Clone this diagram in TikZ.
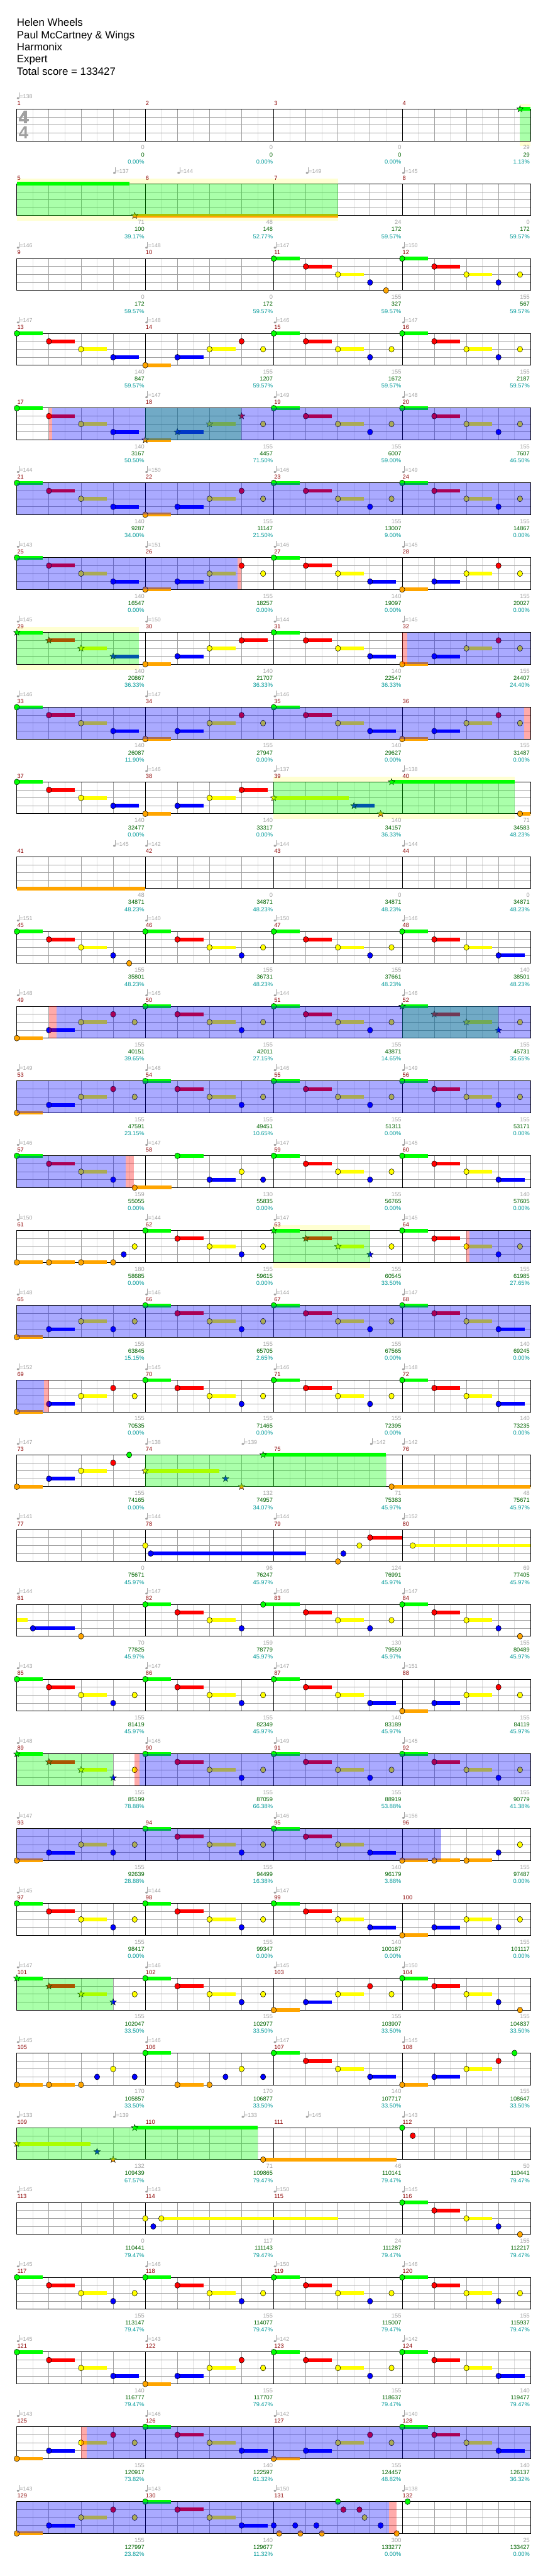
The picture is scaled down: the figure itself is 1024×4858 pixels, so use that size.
\documentclass[tikz,border=0pt]{standalone}
\usepackage{fontspec}
\setmainfont{Liberation Sans}
\usetikzlibrary{shapes.geometric}

\definecolor{lane0}{RGB}{0,255,0}
\definecolor{lane1}{RGB}{255,0,0}
\definecolor{lane2}{RGB}{255,255,0}
\definecolor{lane3}{RGB}{0,0,255}
\definecolor{lane4}{RGB}{255,165,0}
\definecolor{gridgray}{RGB}{160,160,160}
\definecolor{gridlight}{RGB}{221,221,221}
\definecolor{bandyellow}{RGB}{255,255,210}
\definecolor{barred}{RGB}{140,0,0}
\definecolor{scoregreen}{RGB}{0,100,0}
\definecolor{pctteal}{RGB}{0,153,153}

% x of a beat (0..16) in a row, top of the staff of row #1
\newcommand\bx[1]{31.7+60.6*(#1)}
\newcommand\rowtop[1]{\pgfmathsetmacro\rowy{205.7+141*((#1)-1)}}

% bars that come back all the time, #1 = first beat of the bar
\newcommand\runA[1]{0/#1/.81/o,1/#1+1/.81/o,2/#1+2/.81/o,3/#1+3/.81/o}
\newcommand\runB[1]{4/#1/.81/o,3/#1+1/.81/o,2/#1+2/.81/o,1/#1+3/0/o,2/#1+3.67/0/o}
\newcommand\runC[1]{0/#1/.81/o,1/#1+1/.81/o,2/#1+2/.81/o,3/#1+3/0/o,2/#1+3.67/0/o}

% staff of one row of four bars
\newcommand\staff[1]{%
  \rowtop{#1}
  \fill[white] ({\bx{0}},\rowy) rectangle ({\bx{16}},{\rowy+60});
  \foreach \e in {0.5,1.5,...,15.5}
    \draw[eighthline] ({\bx{\e}},\rowy) -- ({\bx{\e}},{\rowy+60});
  \foreach \q in {1,2,3,5,6,7,9,10,11,13,14,15}
    \draw[beatline] ({\bx{\q}},\rowy) -- ({\bx{\q}},{\rowy+60});
  \foreach \kk in {1,2,3}
    \draw[laneline] ({\bx{0}},{\rowy+15*\kk}) -- ({\bx{16}},{\rowy+15*\kk});
  \foreach \q in {4,8,12}
    \draw[barline] ({\bx{\q}},\rowy) -- ({\bx{\q}},{\rowy+60});
  \draw[frame] ({\bx{0}},\rowy) rectangle ({\bx{16}},{\rowy+60});
  \foreach \i [evaluate=\i as \mno using int(4*#1-3+\i)] in {0,...,3}
    \node[barno] (bar\mno) at ({\bx{4*\i}+.8},{\rowy-7.4}) {\mno};
}

% tempo marks: beat/bpm
\newcommand\tempos[2]{%
  \rowtop{#1}
  \foreach \pos/\bpm [count=\j] in {#2} {
    \fill[gridgray] ({\bx{\pos}+2.4},{\rowy-20.6}) ellipse [x radius=2.4,y radius=1.8];
    \draw[gridgray,line width=.8] ({\bx{\pos}+4.4},{\rowy-20.6}) -- ({\bx{\pos}+4.4},{\rowy-31.5});
    \node[tempo] (tp#1-\j) at ({\bx{\pos}+5.5},{\rowy-20.5}) {=\bpm};
  }
}

% notes: lane/beat/sustain/kind (o = gem, s = star, t = tail only)
\newcommand\gems[2]{%
  \rowtop{#1}
  \edef\gemlist{#2}
  \foreach \lane/\pos/\len/\kind [count=\j] in \gemlist {
    \ifdim \len pt>0pt
      \fill[lane\lane] ({\bx{\pos}},{\rowy+15*\lane-3.5}) rectangle ({\bx{\pos+\len}},{\rowy+15*\lane+3.5});
    \fi
    \if\kind o\draw[gem,fill=lane\lane] ({\bx{\pos}},{\rowy+15*\lane}) ellipse [x radius=5,y radius=5.5];\fi
    \if\kind s\node[spstar,fill=lane\lane] (st#1-\j) at ({\bx{\pos}},{\rowy+15*\lane}) {};\fi
  }
}

% shaded stretch of a staff
\newcommand\zone[4]{\rowtop{#1}\fill[#4] ({\bx{#2}},\rowy) rectangle ({\bx{#3}},{\rowy+60});}
\newcommand\band[3]{\rowtop{#1}\fill[band] ({\bx{#2}},{\rowy-10}) rectangle ({\bx{#3}},{\rowy+70});}

% numbers under each bar: gain/total/percent
\newcommand\stats[2]{%
  \rowtop{#1}
  \foreach \gain/\total/\pct [count=\i] in {#2} {
    \node[stat,text=gridgray] (gn#1-\i) at ({\bx{4*\i}-1.5},{\rowy+76.4}) {\gain};
    \node[stat,text=scoregreen] (sc#1-\i) at ({\bx{4*\i}-1.5},{\rowy+89.7}) {\total};
    \node[stat,text=pctteal] (pc#1-\i) at ({\bx{4*\i}-1.5},{\rowy+103}) {\pct\%};
  }
}

\begin{document}
\begin{tikzpicture}[x=1pt,y=-1pt,
    eighthline/.style={gridlight,line width=.8},
    beatline/.style={gridgray,line width=.8},
    laneline/.style={gridgray,line width=1},
    barline/.style={black,line width=.8},
    frame/.style={black,line width=1.2},
    barno/.style={anchor=base west,inner sep=0,text=barred,font=\fontsize{11}{11}\selectfont},
    tempo/.style={anchor=base west,inner sep=0,text=gridgray,font=\fontsize{10.5}{11}\selectfont},
    stat/.style={anchor=base east,inner sep=0,font=\fontsize{11}{11}\selectfont},
    title/.style={anchor=base west,inner sep=0,font=\fontsize{20}{20}\selectfont},
    timesig/.style={inner sep=0,text=gridgray,font=\fontsize{33}{33}\selectfont\bfseries},
    gem/.style={draw=black,line width=.6},
    spstar/.style={star,star points=5,star point ratio=2.4,minimum size=13,inner sep=0,draw=black,line width=.5},
    spzone/.style={fill=lane0,fill opacity=.333},
    odzone/.style={fill=lane3,fill opacity=.333},
    actzone/.style={fill=lane1,fill opacity=.333},
    band/.style={fill=bandyellow}]
  \fill[white] (0,0) rectangle (1024,4858);
  \useasboundingbox (0,0) rectangle (1024,4858);

  \node[title] (song) at (31.7,49.3) {Helen Wheels};
  \node[title] (artist) at (31.7,72.4) {Paul McCartney \& Wings};
  \node[title] (charter) at (31.7,95.5) {Harmonix};
  \node[title] (level) at (31.7,118.6) {Expert};
  \node[title] (total) at (31.7,141.7) {Total score = 133427};

  % star power backdrops
  \band{1}{15.67}{16}
  \band{2}{0}{10}
  \band{8}{0}{3.81}
  \band{10}{8}{15.5}
  \band{16}{8}{11}

  \foreach \r in {1,...,33} \staff{\r}
  \node[timesig] (sigup) at (44.5,221.7) {4};
  \node[timesig] (sigdown) at (44.5,250.7) {4};

  % bars 1-4
  \tempos{1}{0/138}
  \gems{1}{0/15.67/.33/s}
  \zone{1}{15.67}{16}{spzone}
  \stats{1}{0/0/0.00,0/0/0.00,0/0/0.00,29/29/1.13}
  % bars 5-8
  \tempos{2}{3/137,5/144,9/149,12/145}
  \gems{2}{0/0/3.5/t,4/3.67/6.33/s}
  \zone{2}{0}{10}{spzone}
  \stats{2}{71/100/39.17,48/148/52.77,24/172/59.57,0/172/59.57}
  % bars 9-12
  \tempos{3}{0/146,4/148,8/147,12/150}
  \gems{3}{0/8/.81/o,1/9/.81/o,2/10/.81/o,3/11/0/o,4/11.5/0/o,\runC{12}}
  \stats{3}{0/172/59.57,0/172/59.57,155/327/59.57,155/567/59.57}
  % bars 13-16
  \tempos{4}{0/147,4/148,8/146,12/147}
  \gems{4}{\runA{0},\runB{4},\runC{8},\runC{12}}
  \stats{4}{140/847/59.57,155/1207/59.57,155/1672/59.57,155/2187/59.57}
  % bars 17-20
  \tempos{5}{4/147,8/149,12/148}
  \gems{5}{\runA{0},4/4/.81/s,3/5/.81/s,2/6/.81/s,1/7/0/s,2/7.67/0/o,\runC{8},\runC{12}}
  \zone{5}{4}{7}{spzone}
  \zone{5}{1}{1.1}{actzone}
  \zone{5}{1.1}{16}{odzone}
  \stats{5}{140/3167/50.50,155/4457/71.50,155/6007/59.00,155/7607/46.50}
  % bars 21-24
  \tempos{6}{0/144,4/150,8/146,12/149}
  \gems{6}{\runA{0},\runB{4},\runC{8},\runC{12}}
  \zone{6}{0}{16}{odzone}
  \stats{6}{140/9287/34.00,155/11147/21.50,155/13007/9.00,155/14867/0.00}
  % bars 25-28
  \tempos{7}{0/143,4/151,8/146,12/145}
  \gems{7}{\runA{0},\runB{4},\runA{8},\runB{12}}
  \zone{7}{0}{6.88}{odzone}
  \zone{7}{6.88}{7}{actzone}
  \stats{7}{140/16547/0.00,155/18257/0.00,140/19097/0.00,155/20027/0.00}
  % bars 29-32
  \tempos{8}{0/145,4/150,8/144,12/145}
  \gems{8}{0/0/.81/s,1/1/.81/s,2/2/.81/s,3/3/.81/s,4/4/.81/o,3/5/.81/o,2/6/.81/o,1/7/.81/o,\runA{8},\runB{12}}
  \zone{8}{0}{3.81}{spzone}
  \zone{8}{12}{12.16}{actzone}
  \zone{8}{12.16}{16}{odzone}
  \stats{8}{140/20867/36.33,140/21707/36.33,140/22547/36.33,155/24407/24.40}
  % bars 33-36
  \tempos{9}{0/146,4/147,8/146}
  \gems{9}{\runA{0},\runB{4},\runA{8},\runB{12}}
  \zone{9}{0}{15.8}{odzone}
  \zone{9}{15.8}{16}{actzone}
  \stats{9}{140/26087/11.90,155/27947/0.00,140/29627/0.00,155/31487/0.00}
  % bars 37-40
  \tempos{10}{4/146,8/137,12/138}
  \gems{10}{\runA{0},4/4/.81/o,3/5/.81/o,2/6/.81/o,1/7/.81/o,2/8/2.33/s,3/10.5/.65/s,4/11.33/0/s,0/11.67/3.83/s,4/15.67/.33/o}
  \zone{10}{8}{15.5}{spzone}
  \stats{10}{140/32477/0.00,140/33317/0.00,140/34157/36.33,71/34583/48.23}
  % bars 41-44
  \tempos{11}{3/145,4/142,8/144,12/144}
  \gems{11}{4/0/4/t}
  \stats{11}{48/34871/48.23,0/34871/48.23,0/34871/48.23,0/34871/48.23}
  % bars 45-48
  \tempos{12}{0/151,4/140,8/150,12/146}
  \gems{12}{0/0/.81/o,1/1/.81/o,2/2/.81/o,3/3/0/o,4/3.5/0/o,\runC{4},\runC{8},\runA{12}}
  \stats{12}{155/35801/48.23,155/36731/48.23,155/37661/48.23,140/38501/48.23}
  % bars 49-52
  \tempos{13}{0/148,4/145,8/144,12/146}
  \gems{13}{\runB{0},\runC{4},\runC{8},0/12/.81/s,1/13/.81/s,2/14/.81/s,3/15/0/s,2/15.67/0/o}
  \zone{13}{12}{15}{spzone}
  \zone{13}{1}{1.24}{actzone}
  \zone{13}{1.24}{16}{odzone}
  \stats{13}{155/40151/39.65,155/42011/27.15,155/43871/14.65,155/45731/35.65}
  % bars 53-56
  \tempos{14}{0/149,4/148,8/146,12/149}
  \gems{14}{\runB{0},\runC{4},\runC{8},\runC{12}}
  \zone{14}{0}{16}{odzone}
  \stats{14}{155/47591/23.15,155/49451/10.65,155/51311/0.00,155/53171/0.00}
  % bars 57-60
  \tempos{15}{0/146,4/147,8/147,12/145}
  \gems{15}{0/0/.81/o,1/1/.81/o,2/2/.81/o,3/3/0/o,4/3.67/1.15/o,0/5/.81/o,3/6/.81/o,2/7/0/o,3/7.67/0/o,\runC{8},\runA{12}}
  \zone{15}{0}{3.4}{odzone}
  \zone{15}{3.4}{3.65}{actzone}
  \stats{15}{159/55055/0.00,130/55835/0.00,155/56765/0.00,140/57605/0.00}
  % bars 61-64
  \tempos{16}{0/150,4/144,8/147,12/145}
  \gems{16}{4/0/.81/o,4/1/.81/o,4/2/.81/o,4/3/0/o,3/3.33/0/o,2/3.67/0/o,\runC{4},0/8/.81/s,1/9/.81/s,2/10/.81/s,3/11/0/s,2/11.67/0/o,\runC{12}}
  \zone{16}{8}{11}{spzone}
  \zone{16}{14}{14.1}{actzone}
  \zone{16}{14.1}{16}{odzone}
  \stats{16}{180/58685/0.00,155/59615/0.00,155/60545/33.50,155/61985/27.65}
  % bars 65-68
  \tempos{17}{0/148,4/146,8/144,12/147}
  \gems{17}{4/0/.81/o,3/1/.81/o,2/2/.81/o,3/3/0/o,2/3.67/0/o,\runC{4},\runC{8},\runA{12}}
  \zone{17}{0}{16}{odzone}
  \stats{17}{155/63845/15.15,155/65705/2.65,155/67565/0.00,140/69245/0.00}
  % bars 69-72
  \tempos{18}{0/152,4/145,8/146,12/148}
  \gems{18}{\runB{0},\runC{4},\runC{8},\runA{12}}
  \zone{18}{0}{.85}{odzone}
  \zone{18}{.85}{1}{actzone}
  \stats{18}{155/70535/0.00,155/71465/0.00,155/72395/0.00,140/73235/0.00}
  % bars 73-76
  \tempos{19}{0/147,4/138,7/139,11/142,12/142}
  \gems{19}{4/0/.81/o,3/1/.81/o,2/2/.81/o,1/3/0/o,0/3.5/0/o,2/4/2.31/s,3/6.5/0/s,4/7/0/s,0/7.67/3.83/s,4/11.67/4.33/o}
  \zone{19}{4}{11.5}{spzone}
  \stats{19}{155/74165/0.00,132/74957/34.07,71/75383/45.97,48/75671/45.97}
  % bars 77-80
  \tempos{20}{0/141,4/144,8/144,12/152}
  \gems{20}{2/4/0/o,3/4.17/4.83/o,4/10/0/o,3/10.17/0/o,2/10.67/0/o,1/11/1/o,2/12.33/3.67/o}
  \stats{20}{0/75671/45.97,96/76247/45.97,124/76991/45.97,69/77405/45.97}
  % bars 81-84
  \tempos{21}{0/144,4/147,8/146,12/147}
  \gems{21}{2/0/.33/t,3/.5/1.31/o,4/2/0/o,0/4/.81/o,1/5/.81/o,2/6/.81/o,3/7/0/o,0/7.67/1.15/o,1/9/.81/o,2/10/.81/o,3/11/0/o,2/11.67/0/o,0/12/.81/o,1/13/.81/o,2/14/.81/o,3/15/0/o,4/15.67/0/o}
  \stats{21}{70/77825/45.97,159/78779/45.97,130/79559/45.97,155/80489/45.97}
  % bars 85-88
  \tempos{22}{0/143,4/147,8/147,12/151}
  \gems{22}{\runC{0},\runC{4},\runA{8},\runB{12}}
  \stats{22}{155/81419/45.97,155/82349/45.97,140/83189/45.97,155/84119/45.97}
  % bars 89-92
  \tempos{23}{0/148,4/145,8/149,12/145}
  \gems{23}{0/0/.81/s,1/1/.81/s,2/2/.81/s,3/3/0/s,2/3.67/0/o,\runC{4},\runC{8},\runC{12}}
  \zone{23}{0}{3}{spzone}
  \zone{23}{3.67}{3.82}{actzone}
  \zone{23}{3.82}{16}{odzone}
  \stats{23}{155/85199/78.88,155/87059/66.38,155/88919/53.88,155/90779/41.38}
  % bars 93-96
  \tempos{24}{0/147,8/146,12/156}
  \gems{24}{4/0/.81/o,3/1/.81/o,2/2/.81/o,3/3/0/o,2/3.67/0/o,\runC{4},\runA{8},4/12/.81/o,4/13/.81/o,4/14/.81/o,3/15/0/o,2/15.67/0/o}
  \zone{24}{0}{13.22}{odzone}
  \stats{24}{155/92639/28.88,155/94499/16.38,140/96179/3.88,155/97487/0.00}
  % bars 97-100
  \tempos{25}{0/145,4/144,8/147}
  \gems{25}{\runC{0},\runC{4},\runA{8},4/12/.81/o,3/13/.81/o,2/14/.81/o,3/15/0/o,2/15.67/0/o}
  \stats{25}{155/98417/0.00,155/99347/0.00,140/100187/0.00,155/101117/0.00}
  % bars 101-104
  \tempos{26}{0/147,4/146,8/145,12/150}
  \gems{26}{0/0/.81/s,1/1/.81/s,2/2/.81/s,3/3/0/s,2/3.67/0/o,\runC{4},\runB{8},0/12/.81/o,1/13/.81/o,2/14/.81/o,3/15/0/o,4/15.67/0/o}
  \zone{26}{0}{3}{spzone}
  \stats{26}{155/102047/33.50,155/102977/33.50,155/103907/33.50,155/104837/33.50}
  % bars 105-108
  \tempos{27}{0/145,4/146,8/147,12/145}
  \gems{27}{4/0/.81/o,4/1/.81/o,4/2/0/o,3/2.5/0/o,2/3/0/o,3/3.67/0/o,0/4/.81/o,4/5/.81/o,4/6/0/o,3/6.5/0/o,2/7/0/o,3/7.67/0/o,\runA{8},4/12/.81/o,3/13/.81/o,2/14/.81/o,1/15/0/o,0/15.5/0/o}
  \stats{27}{170/105857/33.50,170/106877/33.50,140/107717/33.50,155/108647/33.50}
  % bars 109-112
  \tempos{28}{0/133,3/139,7/133,9/145,12/143}
  \gems{28}{2/0/2.3/s,3/2.5/0/s,4/3/0/s,0/3.67/3.83/s,4/7.67/4.16/o,0/12/0/o,1/12.33/0/o}
  \zone{28}{0}{7.5}{spzone}
  \stats{28}{132/109439/67.57,71/109865/79.47,46/110141/79.47,50/110441/79.47}
  % bars 113-116
  \tempos{29}{0/145,4/143,8/150,12/145}
  \gems{29}{2/4/0/o,3/4.25/0/o,2/4.5/5.5/o,0/12/.81/o,1/13/.81/o,2/14/.81/o,3/15/0/o,4/15.67/0/o}
  \stats{29}{0/110441/79.47,117/111143/79.47,24/111287/79.47,155/112217/79.47}
  % bars 117-120
  \tempos{30}{0/145,4/146,8/150,12/146}
  \gems{30}{\runC{0},\runC{4},\runC{8},\runC{12}}
  \stats{30}{155/113147/79.47,155/114077/79.47,155/115007/79.47,155/115937/79.47}
  % bars 121-124
  \tempos{31}{0/145,4/143,8/142,12/142}
  \gems{31}{\runA{0},\runB{4},\runC{8},\runA{12}}
  \stats{31}{140/116777/79.47,155/117707/79.47,155/118637/79.47,140/119477/79.47}
  % bars 125-128
  \tempos{32}{0/143,4/146,8/142,12/140}
  \gems{32}{\runB{0},\runA{4},\runB{8},\runA{12}}
  \zone{32}{2}{2.17}{actzone}
  \zone{32}{2.17}{16}{odzone}
  \stats{32}{155/120917/73.82,140/122597/61.32,155/124457/48.82,140/126137/36.32}
  % bars 129-132
  \tempos{33}{0/143,4/143,8/150,12/138}
  \gems{33}{\runB{0},\runA{4},3/8/0/o,4/8.17/0/o,3/8.67/0/o,4/8.83/0/o,3/9.33/0/o,4/9.5/0/o,0/10/0/o,1/10.17/0/o,1/10.67/0/o,2/10.83/0/o,3/11.33/0/o,4/11.83/0/o,0/12.17/0/o}
  \zone{33}{0}{11.6}{odzone}
  \zone{33}{11.6}{11.83}{actzone}
  \stats{33}{155/127997/23.82,140/129677/11.32,300/133277/0.00,25/133427/0.00}
\end{tikzpicture}
\end{document}
